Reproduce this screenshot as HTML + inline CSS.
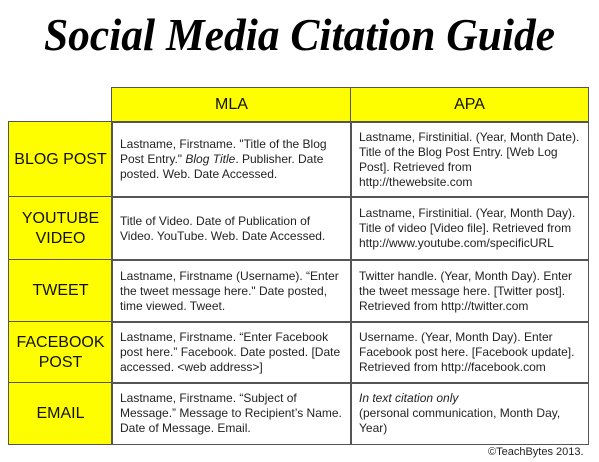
<!DOCTYPE html>
<html><head><meta charset="utf-8"><style>
body{margin:0;width:599px;height:462px;background:#fff;position:relative;overflow:hidden;font-family:"Liberation Sans",sans-serif;}
.c{position:absolute;box-sizing:border-box;border:1.5px solid #555;}
.y{background:#fefe00;}
.h{display:flex;align-items:center;justify-content:center;text-align:center;font-size:16px;color:#111;line-height:20px;}
.t{display:flex;align-items:center;font-size:12px;line-height:15px;color:#222;padding:0 8px;}
</style></head><body>
<svg width="599" height="70" style="position:absolute;left:0;top:0">
<text x="44" y="50" font-family="Liberation Serif" font-style="italic" font-weight="bold" font-size="46" textLength="511" lengthAdjust="spacingAndGlyphs" fill="#000">Social Media Citation Guide</text>
</svg>
<div class="c y h" style="left:111px;top:87px;width:241px;height:36px">MLA</div>
<div class="c y h" style="left:350px;top:87px;width:239px;height:36px">APA</div>

<div class="c y h" style="left:8px;top:121px;width:105px;height:77px">BLOG POST</div>
<div class="c t" style="left:111px;top:121px;width:241px;height:77px"><div>Lastname, Firstname. "Title of the Blog Post Entry." <i>Blog Title</i>. Publisher. Date posted. Web. Date Accessed.</div></div>
<div class="c t" style="left:350px;top:121px;width:239px;height:77px"><div>Lastname, Firstinitial. (Year, Month Date). Title of the Blog Post Entry. [Web Log Post]. Retrieved from http://thewebsite.com</div></div>

<div class="c y h" style="left:8px;top:196px;width:105px;height:65px">YOUTUBE<br>VIDEO</div>
<div class="c t" style="left:111px;top:196px;width:241px;height:65px"><div>Title of Video. Date of Publication of Video. YouTube. Web. Date Accessed.</div></div>
<div class="c t" style="left:350px;top:196px;width:239px;height:65px"><div>Lastname, Firstinitial. (Year, Month Day). Title of video [Video file]. Retrieved from http://www.youtube.com/specificURL</div></div>

<div class="c y h" style="left:8px;top:259px;width:105px;height:64px">TWEET</div>
<div class="c t" style="left:111px;top:259px;width:241px;height:64px"><div>Lastname, Firstname (Username). “Enter the tweet message here." Date posted, time viewed. Tweet.</div></div>
<div class="c t" style="left:350px;top:259px;width:239px;height:64px"><div>Twitter handle. (Year, Month Day). Enter the tweet message here. [Twitter post]. Retrieved from http://twitter.com</div></div>

<div class="c y h" style="left:8px;top:321px;width:105px;height:63px">FACEBOOK<br>POST</div>
<div class="c t" style="left:111px;top:321px;width:241px;height:63px"><div>Lastname, Firstname. “Enter Facebook post here.” Facebook. Date posted. [Date accessed. &lt;web address&gt;]</div></div>
<div class="c t" style="left:350px;top:321px;width:239px;height:63px"><div>Username. (Year, Month Day). Enter Facebook post here. [Facebook update]. Retrieved from http://facebook.com</div></div>

<div class="c y h" style="left:8px;top:382px;width:105px;height:63px">EMAIL</div>
<div class="c t" style="left:111px;top:382px;width:241px;height:63px"><div>Lastname, Firstname. “Subject of Message.” Message to Recipient’s Name. Date of Message. Email.</div></div>
<div class="c t" style="left:350px;top:382px;width:239px;height:63px"><div><i>In text citation only</i><br>(personal communication, Month Day, Year)</div></div>

<div style="position:absolute;left:488px;top:446px;font-size:11px;color:#222">©TeachBytes 2013.</div>
</body></html>
